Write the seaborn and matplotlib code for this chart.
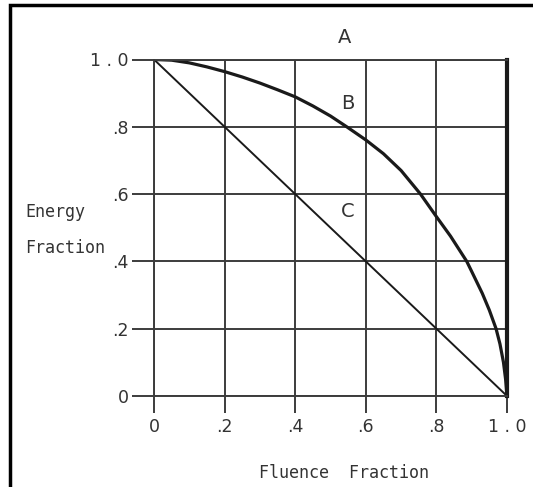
import matplotlib
matplotlib.use("Agg")
import matplotlib.pyplot as plt
from matplotlib.patches import Rectangle
import seaborn as sns
import pandas as pd

# Curve B: energy fraction vs fluence fraction
fluence_b = [0.0, 0.05, 0.1, 0.15, 0.2, 0.25, 0.3, 0.35, 0.4, 0.45, 0.5, 0.546,
             0.6, 0.65, 0.7, 0.755, 0.8, 0.84, 0.886, 0.9, 0.93, 0.95, 0.969,
             0.98, 0.99, 0.996, 1.0]
energy_b = [1.0, 0.998, 0.99, 0.978, 0.964, 0.948, 0.93, 0.91, 0.889, 0.862,
            0.832, 0.8, 0.761, 0.72, 0.67, 0.6, 0.533, 0.475, 0.4, 0.37, 0.305,
            0.255, 0.2, 0.155, 0.1, 0.05, 0.0]

# Line C: straight proportional relation
fluence_c = [0.0, 1.0]
energy_c = [1.0, 0.0]

tick_vals = [0.0, 0.2, 0.4, 0.6, 0.8, 1.0]
x_tick_labels = ["0", ".2", ".4", ".6", ".8", "1 . 0"]
y_tick_labels = ["0", ".2", ".4", ".6", ".8", "1 . 0"]

curve_labels = ["A", "B", "C"]
curve_label_x = [0.54, 0.55, 0.548]
curve_label_y = [1.064, 0.87, 0.548]

df_b = pd.DataFrame({"fluence": fluence_b, "energy": energy_b})
df_c = pd.DataFrame({"fluence": fluence_c, "energy": energy_c})

sns.set_style("white")
plt.rcParams["font.family"] = ["DejaVu Sans"]
label_font = ["DejaVu Sans Mono", "DejaVu Sans"]

fig = plt.figure(figsize=(5.33, 4.87), dpi=100)
ax = fig.add_axes([154 / 533, 91 / 487, 353 / 533, 336.5 / 487])

grid_col = "#3c3c3c"
line_col = "#1a1a1a"
txt_col = "#333333"

sns.lineplot(data=df_b, x="fluence", y="energy", ax=ax, color=line_col,
             linewidth=2.3, sort=False, estimator=None)
sns.lineplot(data=df_c, x="fluence", y="energy", ax=ax, color=line_col,
             linewidth=1.4, sort=False, estimator=None)

ax.set_xlim(0, 1)
ax.set_ylim(0, 1)
ax.set_xticks(tick_vals)
ax.set_yticks(tick_vals)
ax.set_xticklabels(x_tick_labels, fontsize=12.5, color=txt_col)
ax.set_yticklabels(y_tick_labels, fontsize=12.5, color=txt_col)
ax.grid(True, color=grid_col, linewidth=1.4)
ax.tick_params(axis="y", length=16, width=1.4, color=grid_col, pad=2, left=True)
ax.tick_params(axis="x", length=12, width=1.4, color=grid_col, pad=4, bottom=True)
ax.set_xlabel("")
ax.set_ylabel("")

for side in ["left", "bottom", "top"]:
    ax.spines[side].set_color(grid_col)
    ax.spines[side].set_linewidth(1.4)
ax.spines["right"].set_color(line_col)
ax.spines["right"].set_linewidth(3.0)

for lab, lx, ly in zip(curve_labels, curve_label_x, curve_label_y):
    ax.text(lx, ly, lab, fontsize=14, color=txt_col, ha="center", va="center",
            clip_on=False)

fig.text(25 / 533, 1 - 212 / 487, "Energy", fontsize=12, color=txt_col,
         ha="left", va="center", family=label_font)
fig.text(25 / 533, 1 - 248 / 487, "Fraction", fontsize=12, color=txt_col,
         ha="left", va="center", family=label_font)
fig.text(344 / 533, 1 - 473 / 487, "Fluence  Fraction", fontsize=12,
         color=txt_col, ha="center", va="center", family=label_font)

# outer frame running off the right and bottom edges
fig.patches.append(Rectangle((10 / 533, -0.1), 1.2, (1 - 5 / 487) + 0.1,
                             transform=fig.transFigure, fill=False,
                             edgecolor="black", linewidth=2.5))

fig.savefig("out.png", dpi=100, facecolor="white")
